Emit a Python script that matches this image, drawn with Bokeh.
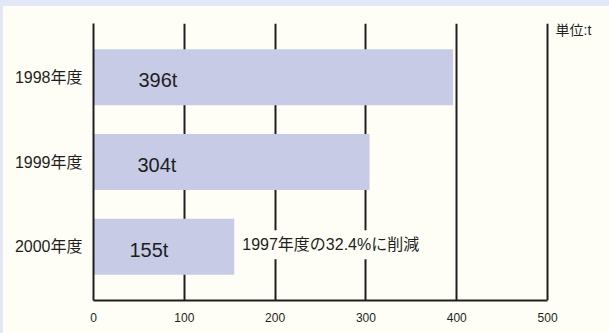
from bokeh.plotting import figure
from bokeh.models import ColumnDataSource, FactorRange, Range1d, FixedTicker
from bokeh.layouts import column
from bokeh.core.properties import value
from bokeh.embed import file_html
from bokeh.resources import INLINE

# ---- data ----
years = ["1998年度", "1999年度", "2000年度"]
amounts = [396, 304, 155]
amount_labels = ["396t", "304t", "155t"]
x_ticks = [0, 100, 200, 300, 400, 500]
unit_label = "単位:t"
note_text = "1997年度の32.4%に削減"

# ---- styles ----
FONT = "'Liberation Sans', 'Noto Sans CJK JP', sans-serif"
BG = "#FEFEF6"
OUTER = "#E3E8F6"
BAR = "#C7CBE5"
INK = "#1E1E1E"
label_x_offsets = [45, 44, 36]

src = ColumnDataSource(dict(year=years, amount=amounts, label=amount_labels,
                            zero=[0] * len(years), xoff=label_x_offsets))

p = figure(
    y_range=FactorRange(factors=list(reversed(years)), range_padding=0.135,
                        range_padding_units="absolute"),
    x_range=Range1d(0, 555),
    output_backend="svg", toolbar_location=None,
    frame_width=504, frame_height=277,
    min_border_left=90, min_border_right=12, min_border_top=17, min_border_bottom=33,
    background_fill_color=BG, border_fill_color=BG, outline_line_color=None,
)

p.hbar(y="year", left=0, right="amount", height=0.66, source=src,
       fill_color=BAR, line_color=None)

p.text(x="zero", y="year", text="label", source=src, x_offset="xoff", y_offset=3,
       text_align="left", text_baseline="middle", text_font=value(FONT),
       text_font_size="20px", text_color=INK)

p.text(x=[amounts[-1]], y=[years[-1]], text=[note_text], x_offset=2, y_offset=-2,
       text_align="left", text_baseline="middle", text_font=value(FONT),
       text_font_size="16px", text_color=INK,
       background_fill_color=BG, padding=6)

p.text(x=[x_ticks[-1]], y=[years[0]], text=[unit_label], x_offset=8, y_offset=-47,
       text_align="left", text_baseline="middle", text_font=value(FONT),
       text_font_size="14px", text_color=INK)

# axes
p.xaxis.ticker = FixedTicker(ticks=x_ticks)
p.xaxis.bounds = (x_ticks[0], x_ticks[-1])
p.xaxis.axis_line_color = INK
p.xaxis.axis_line_width = 2
p.xaxis.major_tick_line_color = None
p.xaxis.minor_tick_line_color = None
p.xaxis.major_label_standoff = 6
p.xaxis.major_label_text_font = FONT
p.xaxis.major_label_text_font_size = "12px"
p.xaxis.major_label_text_color = INK

p.yaxis.axis_line_color = INK
p.yaxis.axis_line_width = 2
p.yaxis.major_tick_line_color = None
p.yaxis.minor_tick_line_color = None
p.yaxis.major_label_standoff = 5
p.yaxis.major_label_text_font = FONT
p.yaxis.major_label_text_font_size = "16px"
p.yaxis.major_label_text_color = INK

p.xgrid.ticker = FixedTicker(ticks=x_ticks[1:])
p.xgrid.grid_line_color = INK
p.xgrid.grid_line_width = 2
p.ygrid.grid_line_color = None

layout = column(p, styles={"background-color": BG,
                           "border-top": f"6px solid {OUTER}",
                           "border-left": f"3px solid {OUTER}"})

open("out.html", "w").write(file_html(layout, INLINE))
